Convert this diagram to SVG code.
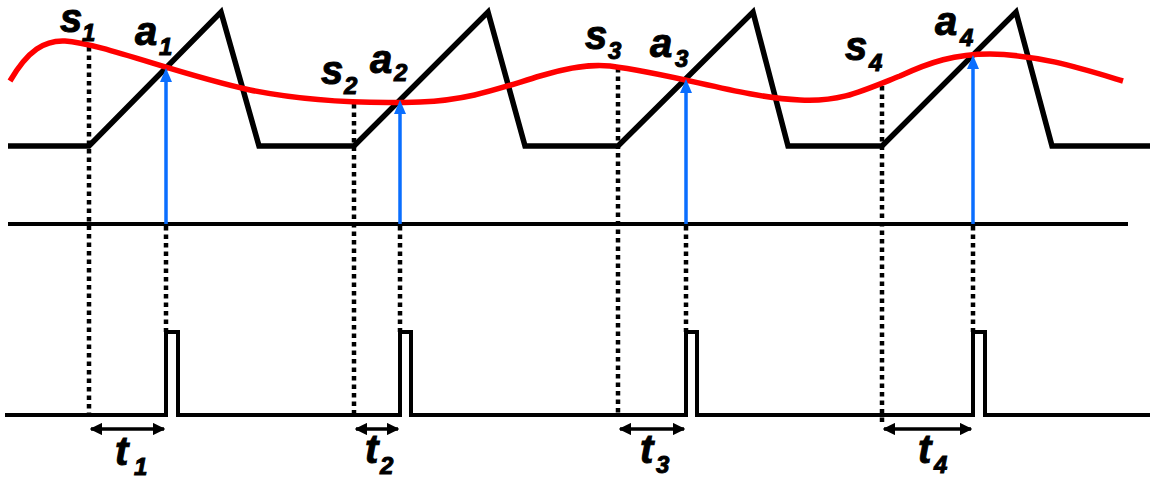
<svg xmlns="http://www.w3.org/2000/svg" width="1152" height="479" viewBox="0 0 1152 479">
<style>
.blk{fill:none;stroke:#000;stroke-width:5.5;stroke-linejoin:miter}
.base{fill:none;stroke:#000;stroke-width:4}
.dot{fill:none;stroke:#000;stroke-width:4.5;stroke-dasharray:4.5 4}
.red{fill:none;stroke:#ff0000;stroke-width:5.5}
.blue{stroke:#0a6eff;stroke-width:3.5}
.bh{fill:#0a6eff}
.dim{stroke:#000;stroke-width:3.5;marker-start:url(#ah);marker-end:url(#ah)}
text{font-family:"Liberation Sans",Arial,sans-serif;font-weight:bold;font-style:italic;fill:#000;stroke:#000;stroke-width:1}
.m{font-size:40px}
.s{font-size:24px}
</style>
<defs>
<marker id="ah" viewBox="0 0 10 10" refX="9" refY="5" markerWidth="3.6" markerHeight="3.6" orient="auto-start-reverse" markerUnits="strokeWidth">
<path d="M0,0 L10,5 L0,10 z" fill="#000"/>
</marker>
</defs>
<g id="connectors">
<path class="dot" d="M89,47 V415 M354,104 V415 M618,68 V415 M882,86 V425"/>
<path class="dot" d="M166,226 V332 M400,226 V332 M686,226 V332 M973,226 V332"/>
<line class="base" x1="8" y1="224" x2="1128" y2="224"/>
<path class="blk" d="M8,146 H89 L221,12 L259,146 H354 L488,12 L525,146 H618 L753,12 L788,146 H882 L1016,12 L1052,146 H1150"/>
<path class="red" d="M10,81 C28,50 45,40 65,41 C100,43 180,75 250,90 C300,100 360,104 420,102 C470,100 500,88 540,76 C570,67 590,64 610,66 C680,75 740,97 800,100 C840,102 860,92 900,76 C930,62 955,54 990,54 C1040,55 1080,68 1123,81"/>
<path class="blk" d="M5,415 H166 V332 H178 V415 H400 V332 H411 V415 H686 V332 H697 V415 H973 V332 H985 V415 H1150" style="stroke-width:4"/>
<g id="arrows">
<line class="blue" x1="166" y1="224" x2="166" y2="80"/><polygon class="bh" points="166,68 160,82 172,82"/>
<line class="blue" x1="400" y1="224" x2="400" y2="112"/><polygon class="bh" points="400,100 394,114 406,114"/>
<line class="blue" x1="686" y1="224" x2="686" y2="91"/><polygon class="bh" points="686,79 680,93 692,93"/>
<line class="blue" x1="973" y1="224" x2="973" y2="67"/><polygon class="bh" points="973,55 967,69 979,69"/>
</g>
<g id="dims">
<line class="dim" x1="91" y1="429" x2="164" y2="429"/>
<line class="dim" x1="356" y1="429" x2="398" y2="429"/>
<line class="dim" x1="620" y1="429" x2="684" y2="429"/>
<line class="dim" x1="884" y1="429" x2="971" y2="429"/>
</g>
</g>
<g id="label-s1"><text class="m" x="60" y="32">s</text><text class="s" x="82" y="41">1</text></g>
<g id="label-a1"><text class="m" x="135" y="45">a</text><text class="s" x="159" y="55">1</text></g>
<g id="label-s2"><text class="m" x="321" y="84">s</text><text class="s" x="344" y="94">2</text></g>
<g id="label-a2"><text class="m" x="370" y="73">a</text><text class="s" x="394" y="81">2</text></g>
<g id="label-s3"><text class="m" x="585" y="49">s</text><text class="s" x="608" y="59">3</text></g>
<g id="label-a3"><text class="m" x="650" y="57">a</text><text class="s" x="675" y="67">3</text></g>
<g id="label-s4"><text class="m" x="845" y="60">s</text><text class="s" x="869" y="71">4</text></g>
<g id="label-a4"><text class="m" x="935" y="35">a</text><text class="s" x="960" y="46">4</text></g>
<g id="label-t1"><text class="m" x="115" y="465">t</text><text class="s" x="134" y="475">1</text></g>
<g id="label-t2"><text class="m" x="365" y="463">t</text><text class="s" x="380" y="474">2</text></g>
<g id="label-t3"><text class="m" x="640" y="463">t</text><text class="s" x="656" y="473">3</text></g>
<g id="label-t4"><text class="m" x="918" y="463">t</text><text class="s" x="934" y="473">4</text></g>
</svg>
